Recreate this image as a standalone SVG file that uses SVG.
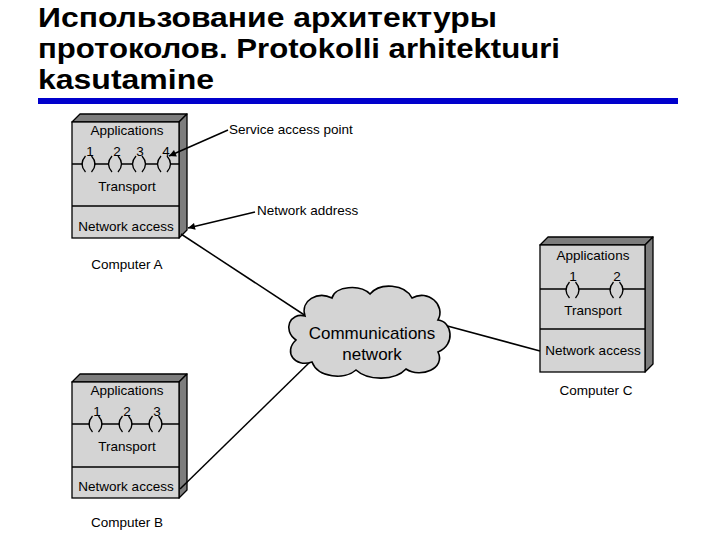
<svg xmlns="http://www.w3.org/2000/svg" width="720" height="540" viewBox="0 0 720 540">
<defs>
<style>
.t{font-family:"Liberation Sans",Arial,sans-serif;font-size:13.5px;fill:#000;text-anchor:middle}
.tl{font-family:"Liberation Sans",Arial,sans-serif;font-size:13.5px;fill:#000}
.title{font-family:"Liberation Sans",Arial,sans-serif;font-size:28px;font-weight:bold;fill:#000}
.front{fill:#d4d4d4;stroke:#000;stroke-width:1.3}
.dark{fill:#7d7d7d;stroke:#000;stroke-width:1.3;stroke-linejoin:round}
.ln{stroke:#000;stroke-width:1.5;fill:none}
.par{stroke:#000;stroke-width:1.3;fill:none}
.cl{fill:#d4d4d4;stroke:#000;stroke-width:1.6}
.ct{font-family:"Liberation Sans",Arial,sans-serif;font-size:17px;fill:#000;text-anchor:middle}
</style>
<symbol id="sap" overflow="visible">
<path class="par" d="M-3,-8 Q-10,0 -3,8 M3,-8 Q10,0 3,8"/>
</symbol>
<marker id="ah" viewBox="0 0 10 10" refX="10" refY="5" markerWidth="10" markerHeight="7" orient="auto" markerUnits="userSpaceOnUse">
<path d="M0,0 L10,5 L0,10 z" fill="#000"/>
</marker>
</defs>
<rect width="720" height="540" fill="#fff"/>
<g id="title">
<text class="title" x="38" y="27" textLength="459" lengthAdjust="spacingAndGlyphs">Использование архитектуры</text>
<text class="title" x="38" y="58" textLength="522" lengthAdjust="spacingAndGlyphs">протоколов. Protokolli arhitektuuri</text>
<text class="title" x="38" y="89" textLength="176" lengthAdjust="spacingAndGlyphs">kasutamine</text>
<rect x="38" y="98" width="640" height="6" fill="#0000cc"/>
</g>
<g id="computerA">
<polygon class="dark" points="72,122 80,114 187,114 179,122"/>
<polygon class="dark" points="179,122 187,114 187,230 179,238"/>
<rect class="front" x="72" y="122" width="107" height="116"/>
<line class="ln" x1="72" y1="206" x2="179" y2="206" stroke-width="1.3"/>
<text class="t" x="127" y="135">Applications</text>
<text class="t" x="90" y="156">1</text>
<text class="t" x="117" y="156">2</text>
<text class="t" x="140" y="156">3</text>
<text class="t" x="166" y="156">4</text>
<path class="ln" d="M72,164 H83 M94,164 H109 M121,164 H133 M145,164 H158 M170,164 H179"/>
<use href="#sap" x="88.5" y="164"/>
<use href="#sap" x="115" y="164"/>
<use href="#sap" x="139" y="164"/>
<use href="#sap" x="164" y="164"/>
<text class="t" x="127" y="191">Transport</text>
<text class="t" x="126" y="231">Network access</text>
<text class="t" x="127" y="269">Computer A</text>
</g>
<g id="computerB">
<polygon class="dark" points="72,382 80,374 187,374 179,382"/>
<polygon class="dark" points="179,382 187,374 187,490 179,498"/>
<rect class="front" x="72" y="382" width="107" height="116"/>
<line class="ln" x1="72" y1="467" x2="179" y2="467" stroke-width="1.3"/>
<text class="t" x="127" y="395">Applications</text>
<text class="t" x="97" y="416">1</text>
<text class="t" x="127" y="416">2</text>
<text class="t" x="157" y="416">3</text>
<path class="ln" d="M72,424 H90 M101,424 H120 M131,424 H150 M161,424 H179"/>
<use href="#sap" x="95.5" y="424"/>
<use href="#sap" x="125.5" y="424"/>
<use href="#sap" x="155.5" y="424"/>
<text class="t" x="127" y="451">Transport</text>
<text class="t" x="126" y="491">Network access</text>
<text class="t" x="127" y="527">Computer B</text>
</g>
<g id="computerC">
<polygon class="dark" points="540,245 548,237 653,237 645,245"/>
<polygon class="dark" points="645,245 653,237 653,364 645,372"/>
<rect class="front" x="540" y="245" width="105" height="127"/>
<line class="ln" x1="540" y1="329" x2="645" y2="329" stroke-width="1.3"/>
<text class="t" x="593" y="260">Applications</text>
<text class="t" x="573" y="281">1</text>
<text class="t" x="617" y="281">2</text>
<path class="ln" d="M540,289 H567 M578,289 H611 M622,289 H645"/>
<use href="#sap" x="572.5" y="290"/>
<use href="#sap" x="616.5" y="290"/>
<text class="t" x="593" y="315">Transport</text>
<text class="t" x="593" y="355">Network access</text>
<text class="t" x="596" y="395">Computer C</text>
</g>
<g id="connectors">
<path class="ln" d="M181,234 L312,320"/>
<path class="ln" d="M180,489 L312,360"/>
<path class="ln" d="M440,324 L540,351"/>
<path class="ln" d="M228,130 L169,156" marker-end="url(#ah)"/>
<path class="ln" d="M255,212 L188,228" marker-end="url(#ah)"/>
<text class="tl" x="229" y="134">Service access point</text>
<text class="tl" x="257" y="215">Network address</text>
</g>
<g id="cloud">
<path class="cl" d="M305,316 C290,312 282,330 296,340 C283,352 295,368 312,362 C318,378 345,380 356,370 C368,381 395,381 406,369 C421,379 446,368 438,352 C456,345 452,321 438,320 C446,305 428,289 412,298 C405,284 380,282 370,294 C360,284 335,286 332,298 C318,291 300,300 305,316 Z"/>
<text class="ct" x="372" y="339">Communications</text>
<text class="ct" x="372" y="360">network</text>
</g>
</svg>
